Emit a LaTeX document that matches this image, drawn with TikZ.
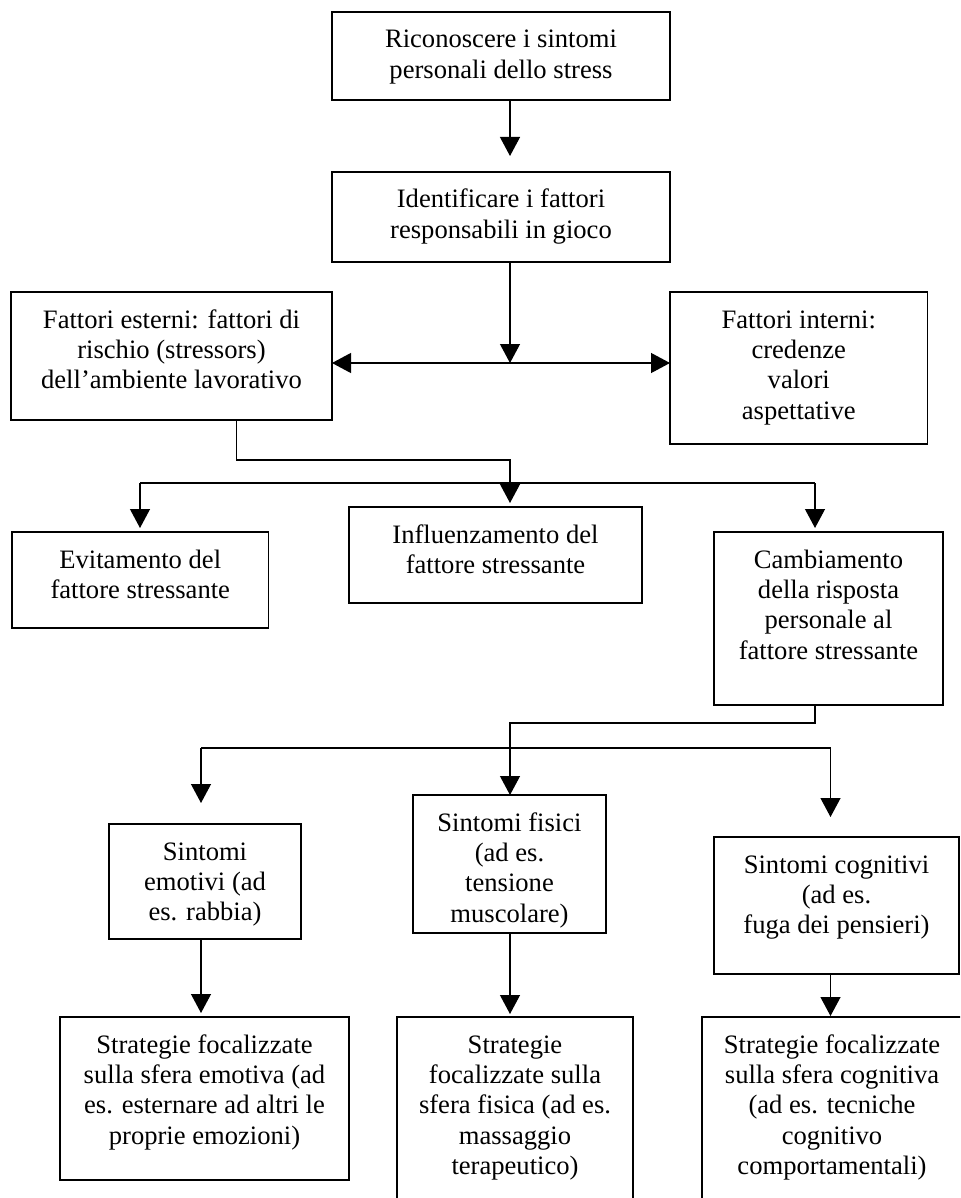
\documentclass[tikz,border=0pt]{standalone}
\usepackage{fontspec}
\setmainfont{Liberation Serif}
\usetikzlibrary{arrows.meta}
\newlength\pxu
\setlength\pxu{0.5pt}
% flow box: name, centre x, centre y, width, height (all in px units), text
\newcommand\flowbox[6]{%
  \node[fbox] (#1) at (#2,#3)
    {\parbox[c][#5\pxu][t]{#4\pxu}{\centering\rule{0pt}{18pt}#6}};}
\tikzset{
  fbox/.style={draw, line width=0.85pt, inner sep=0pt, outer sep=0pt,
    font=\fontsize{13.3pt}{15.2pt}\selectfont},
  conn/.style={line width=0.6pt},
  arr/.style={conn, -{Triangle[width=10pt,length=9.5pt]}},
  darr/.style={conn, {Triangle[width=10pt,length=9.5pt]}-{Triangle[width=10pt,length=9.5pt]}}
}
\begin{document}
\begin{tikzpicture}[x=0.5pt,y=-0.5pt]
\useasboundingbox (0,0) rectangle (960,1198);
\clip (0,0) rectangle (960,1198);

% boxes
\flowbox{ric}{501}{56}{338}{88}{Riconoscere i sintomi\\personali dello stress}
\flowbox{ide}{501}{217}{338}{90}{Identificare i fattori\\responsabili in gioco}
\flowbox{ext}{171.5}{356}{321}{128}{Fattori esterni: fattori di\\rischio (stressors)\\dell’ambiente lavorativo}
\flowbox{int}{798.75}{368}{257.5}{152}{Fattori interni:\\credenze\\valori\\aspettative}
\flowbox{evi}{140.25}{580}{256.5}{96}{Evitamento del\\fattore stressante}
\flowbox{inf}{495.5}{555}{293}{96}{Influenzamento del\\fattore stressante}
\flowbox{cam}{828.5}{618.5}{229}{173}{Cambiamento\\della risposta\\personale al\\fattore stressante}
\flowbox{emo}{205}{881.5}{192}{115}{Sintomi\\emotivi (ad\\es. rabbia)}
\flowbox{fis}{509.5}{864}{193}{138}{Sintomi fisici\\(ad es.\\tensione\\muscolare)}
\flowbox{cog}{836.5}{905.5}{245}{137}{Sintomi cognitivi\\(ad es.\\fuga dei pensieri)}
\flowbox{sem}{204.5}{1098.5}{289}{163}{Strategie focalizzate\\sulla sfera emotiva (ad\\es. esternare ad altri le\\proprie emozioni)}
\flowbox{sfi}{515}{1123.5}{236}{213}{Strategie\\focalizzate sulla\\sfera fisica (ad es.\\massaggio\\terapeutico)}
\flowbox{sco}{832}{1123.5}{260}{213}{Strategie focalizzate\\sulla sfera cognitiva\\(ad es. tecniche\\cognitivo\\comportamentali)}

% junction points
\coordinate (c1) at (510,0);
\coordinate (hub) at (510,363);
\coordinate (e1) at (236.5,460);
\coordinate (d1) at (140,483);
\coordinate (d3) at (815,483);
\coordinate (k1) at (815,723);
\coordinate (g1) at (201,748);
\coordinate (g3) at (830.5,748);

% first steps
\draw[arr, shorten >=8pt] (ric.south -| c1) -- (ide.north -| c1);
\draw[arr] (ide.south -| c1) -- (hub);
\draw[darr] (ext.east |- hub) -- (int.west |- hub);

% external factors to the three responses
\draw[arr, shorten >=2pt] (ext.south -| e1) -- (e1) -| (inf.north -| c1);
\draw[conn] (d1) -- (d3);
\draw[arr, shorten >=2pt] (d1) -- (evi.north -| d1);
\draw[arr, shorten >=2pt] (d3) -- (cam.north -| d3);

% change of response to the three symptom groups
\draw[arr] (cam.south -| k1) -- (k1) -| (fis.north -| c1);
\draw[conn] (g1) -- (g3);
\draw[arr, shorten >=10.5pt] (g1) -- (emo.north -| g1);
\draw[arr, shorten >=10pt] (g3) -- (cog.north -| g3);

% symptoms to strategies
\draw[arr, shorten >=2pt] (emo.south -| g1) -- (sem.north -| g1);
\draw[arr, shorten >=1.5pt] (fis.south -| c1) -- (sfi.north -| c1);
\draw[arr, shorten >=0.5pt] (cog.south -| g3) -- (sco.north -| g3);
\end{tikzpicture}
\end{document}
